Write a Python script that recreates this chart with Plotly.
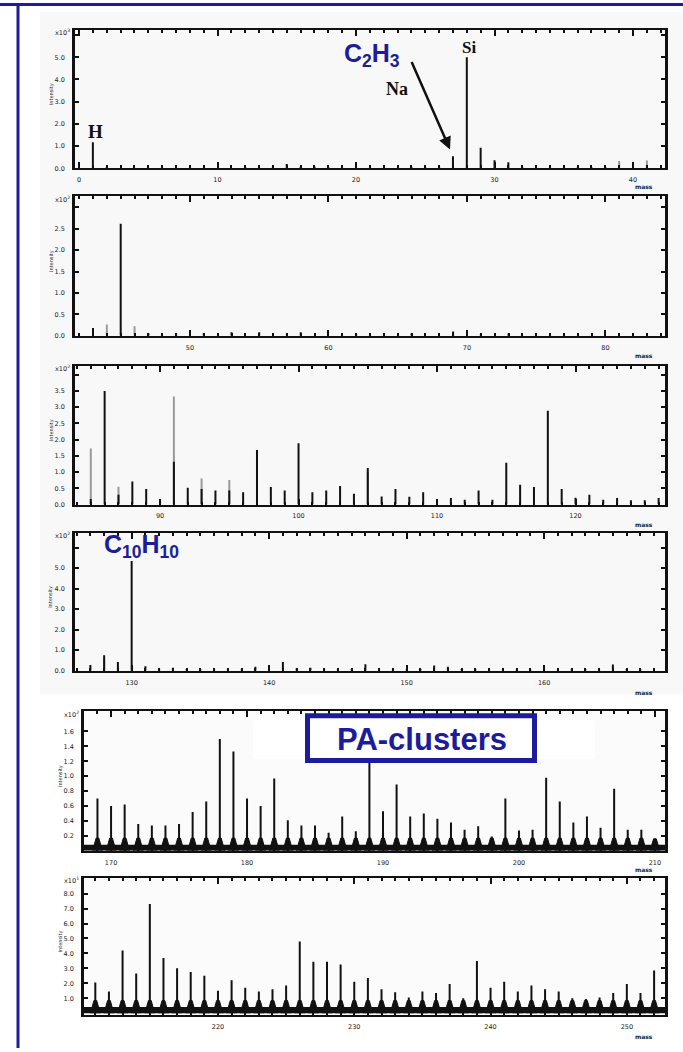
import plotly.graph_objects as go

W, H = 683, 1052
NAVY = "#1c1c9c"
INK = "#111111"
GREY = "#9a9a9a"

# ---------------- spectrum data (m/z, intensity in axis-multiplier units) ----------------
# panel 1: m/z 0-42, x10^3
p1_mass = [1, 2, 12, 13, 14, 15, 16, 17, 18, 24, 25, 26, 27, 28, 29, 30, 31, 32, 36, 37, 38, 40]
p1_int = [1.17, 0.05, 0.06, 0.05, 0.08, 0.20, 0.07, 0.08, 0.05, 0.07, 0.05, 0.10, 0.55, 5.00,
          0.93, 0.37, 0.28, 0.05, 0.04, 0.05, 0.06, 0.12]
p1_grey_mass = [39, 41]
p1_grey_int = [0.33, 0.35]

# panel 2: m/z 42-84, x10^2
p2_mass = [43, 45, 47, 49, 51, 53, 55, 57, 58, 62, 66, 69, 71, 73]
p2_int = [0.18, 2.62, 0.06, 0.05, 0.06, 0.08, 0.08, 0.05, 0.08, 0.04, 0.05, 0.10, 0.04, 0.05]
p2_grey_mass = [44, 46]
p2_grey_int = [0.26, 0.22]

# panel 3: m/z 84-126, x10^2
p3_mass = [85, 86, 87, 88, 89, 90, 91, 92, 93, 94, 95, 96, 97, 98, 99, 100, 101, 102, 103, 104,
           105, 106, 107, 108, 109, 110, 111, 112, 113, 114, 115, 116, 117, 118, 119, 120, 121,
           122, 123, 124, 125, 126]
p3_int = [0.17, 3.50, 0.30, 0.71, 0.48, 0.15, 1.32, 0.52, 0.48, 0.43, 0.43, 0.38, 1.68, 0.54, 0.43,
          1.89, 0.38, 0.43, 0.57, 0.33, 1.13, 0.25, 0.48, 0.24, 0.38, 0.15, 0.20, 0.15, 0.43, 0.15,
          1.29, 0.61, 0.54, 2.89, 0.48, 0.21, 0.30, 0.15, 0.20, 0.13, 0.13, 0.20]
p3_grey_mass = [85, 87, 91, 93, 95, 105]
p3_grey_int = [1.73, 0.55, 3.33, 0.80, 0.76, 1.00]

# panel 4: m/z 126-168, x10^2
p4_mass = [127, 128, 129, 130, 131, 132, 133, 134, 135, 136, 137, 138, 139, 141, 142, 143, 144,
           145, 146, 147, 148, 149, 150, 151, 152, 153, 154, 155, 156, 157, 158, 159, 160, 161,
           162, 163, 164, 165, 166, 167]
p4_int = [0.28, 0.76, 0.43, 5.34, 0.22, 0.10, 0.15, 0.08, 0.07, 0.06, 0.07, 0.06, 0.20, 0.43, 0.12,
          0.15, 0.07, 0.06, 0.08, 0.32, 0.06, 0.07, 0.06, 0.08, 0.25, 0.20, 0.08, 0.07, 0.06, 0.06,
          0.05, 0.06, 0.05, 0.06, 0.06, 0.07, 0.06, 0.30, 0.08, 0.07]
p4_grey_mass = [128]
p4_grey_int = [0.56]

# panel 5: m/z 168-211, x10^2 (PA clusters)
p5_mass = list(range(169, 211))
p5_int = [0.70, 0.60, 0.62, 0.36, 0.34, 0.34, 0.36, 0.52, 0.66, 1.50, 1.33, 0.70, 0.60, 0.97,
          0.41, 0.34, 0.34, 0.24, 0.46, 0.26, 1.40, 0.53, 0.89, 0.46, 0.50, 0.43, 0.38, 0.28,
          0.33, 0.19, 0.70, 0.27, 0.28, 0.98, 0.66, 0.38, 0.46, 0.31, 0.83, 0.28, 0.28, 0.16]

# panel 6: m/z 210-253, x10^1
p6_mass = list(range(211, 253))
p6_int = [2.05, 1.45, 4.20, 2.65, 7.30, 3.70, 3.00, 2.75, 2.50, 1.50, 2.20, 1.70, 1.45, 1.60,
          1.85, 4.80, 3.45, 3.45, 3.25, 2.10, 2.35, 1.60, 1.40, 1.05, 1.45, 1.35, 1.95, 1.00,
          3.50, 1.70, 2.10, 1.45, 1.85, 1.60, 1.45, 1.00, 0.95, 1.05, 1.35, 1.95, 1.35, 2.85]

# axis tick labels
x_ticks = [[0, 10, 20, 30, 40], [50, 60, 70, 80], [90, 100, 110, 120], [130, 140, 150, 160],
           [170, 180, 190, 200, 210], [220, 230, 240, 250]]
y_tickvals = [[0, 1, 2, 3, 4, 5], [0, 0.5, 1, 1.5, 2, 2.5], [0, 0.5, 1, 1.5, 2, 2.5, 3, 3.5],
              [0, 1, 2, 3, 4, 5], [0.2, 0.4, 0.6, 0.8, 1.0, 1.2, 1.4, 1.6],
              [1, 2, 3, 4, 5, 6, 7, 8]]
y_top_tick = [6, 3, 4, 6, None, None]
y_multiplier = ["x10<sup>3</sup>", "x10<sup>2</sup>", "x10<sup>2</sup>", "x10<sup>2</sup>",
                "x10<sup>2</sup>", "x10<sup>1</sup>"]

# ---------------- layout geometry (pixels) ----------------
frames = [(75, 30, 665, 169), (75, 197, 665, 337), (75, 367, 665, 506.5),
          (75, 535, 665, 673.3), (84, 714, 665, 854), (84, 881, 665, 1019)]
xranges = [(-0.29, 42.31), (41.70, 84.30), (83.86, 126.46), (125.88, 168.79),
           (168.01, 210.74), (210.17, 252.8)]
yranges = [(0, 6.23), (0, 3.26), (0, 4.28), (0, 6.71), (0, 1.87), (-0.13, 9.07)]
unit_label_gap = [18, 20, 20, 22, 19, 21]
noise_band = [None, None, None, None, 0.08, 0.42]   # dense baseline of the cluster spectra
foot_height = [None, None, None, None, 0.17, 0.85]  # thick lower part of each cluster peak


def px(x):
    return x / W


def py(y):
    return 1 - y / H


def sticks(masses, heights):
    xs, ys = [], []
    for m, h in zip(masses, heights):
        xs += [m, m, None]
        ys += [0, h, None]
    return xs, ys


def feet(masses, heights, top):
    # narrow trapezoid at the base of each cluster peak
    xs, ys = [], []
    for m, h in zip(masses, heights):
        f = min(top, h)
        xs += [m - 0.36, m - 0.1, m + 0.1, m + 0.36, None]
        ys += [0, f, f, 0, None]
    return xs, ys


def label(text, x, y, size, family="DejaVu Sans", color="#222222", angle=0):
    fig.add_annotation(x=px(x), y=py(y), xref="paper", yref="paper", text=text,
                       showarrow=False, xanchor="center", yanchor="middle", textangle=angle,
                       font=dict(family=family, size=size, color=color))


fig = go.Figure()

black_sets = [(p1_mass, p1_int), (p2_mass, p2_int), (p3_mass, p3_int), (p4_mass, p4_int),
              (p5_mass, p5_int), (p6_mass, p6_int)]
grey_sets = [(p1_grey_mass, p1_grey_int), (p2_grey_mass, p2_grey_int),
             (p3_grey_mass, p3_grey_int), (p4_grey_mass, p4_grey_int), None, None]

font_tick = dict(family="DejaVu Sans", size=6.5, color="#222222")

# light backdrop of the upper four spectra
fig.add_shape(type="rect", xref="paper", yref="paper", x0=px(40), x1=px(683), y0=py(697),
              y1=py(12), fillcolor="#f8f8f8", line=dict(width=0), layer="below")

for i in range(6):
    n = "" if i == 0 else str(i + 1)
    xa, ya = "x" + n, "y" + n
    l, t, r, b = frames[i]

    if noise_band[i] is not None:
        fig.add_trace(go.Scatter(x=list(xranges[i]), y=[noise_band[i], noise_band[i]],
                                 mode="lines", line=dict(width=0, color=INK), fill="tozeroy",
                                 fillcolor=INK, xaxis=xa, yaxis=ya, hoverinfo="skip"))
        fx, fy = feet(*black_sets[i], foot_height[i])
        fig.add_trace(go.Scatter(x=fx, y=fy, mode="lines", line=dict(width=1, color=INK),
                                 fill="toself", fillcolor=INK, xaxis=xa, yaxis=ya,
                                 hoverinfo="skip"))

    if grey_sets[i] is not None:
        gx, gy = sticks(*grey_sets[i])
        fig.add_trace(go.Scatter(x=gx, y=gy, mode="lines", line=dict(width=2, color=GREY),
                                 xaxis=xa, yaxis=ya, hoverinfo="skip"))
    sx, sy = sticks(*black_sets[i])
    fig.add_trace(go.Scatter(x=sx, y=sy, mode="lines", line=dict(width=2, color=INK),
                             xaxis=xa, yaxis=ya, hoverinfo="skip"))

    fig.layout["xaxis" + n] = dict(
        domain=[px(l), px(r)], anchor=ya, range=list(xranges[i]),
        tickvals=x_ticks[i], ticktext=[str(v) for v in x_ticks[i]],
        ticks="inside", ticklen=6, tickwidth=1.5, tickcolor=INK,
        minor=dict(dtick=1, tick0=0, ticks="inside", ticklen=3, tickwidth=1.5, tickcolor=INK),
        showline=True, linewidth=2, linecolor=INK, mirror="ticks",
        showgrid=False, zeroline=False, tickfont=font_tick, ticklabelstandoff=4,
    )
    yv = y_tickvals[i]
    yaxis = dict(
        domain=[py(b), py(t)], anchor=xa, range=list(yranges[i]),
        tickvals=yv, ticktext=[f"{v:.1f}" for v in yv],
        ticks="inside", ticklen=4, tickwidth=1.5, tickcolor=INK,
        showline=True, linewidth=2.5, linecolor=INK, mirror="ticks",
        showgrid=False, zeroline=False, tickfont=font_tick, ticklabelstandoff=6,
    )
    if y_top_tick[i] is not None:
        yaxis["minor"] = dict(tickvals=[y_top_tick[i]], ticks="inside", ticklen=4,
                              tickwidth=1.5, tickcolor=INK)
    fig.layout["yaxis" + n] = yaxis

    # multiplier, axis title and unit label
    label(y_multiplier[i], l - 13, t + 3, 6.5)
    label("Intensity", l - 24, (t + b) / 2 - 5, 5, angle=-90)
    label("<b>mass</b>", 644, b + unit_label_gap[i], 6)

# element labels on panel 1
label("<b>H</b>", 95, 132.5, 19, family="Liberation Serif", color=INK)
label("<b>Na</b>", 397, 89, 18, family="Liberation Serif", color=INK)
label("<b>Si</b>", 469, 47.5, 17, family="Liberation Serif", color=INK)

label("<b>C<sub>2</sub>H<sub>3</sub></b>", 372, 55, 25, family="Liberation Sans", color=NAVY)
fig.add_annotation(x=px(450), y=py(150), ax=-39, ay=-89, xref="paper", yref="paper",
                   text="", showarrow=True, arrowhead=2,
                   arrowsize=1, arrowwidth=2.5, arrowcolor=INK)
label("<b>C<sub>10</sub>H<sub>10</sub></b>", 141, 548, 25, family="Liberation Sans", color=NAVY)

# clean strip and label box over the cluster spectrum
fig.add_shape(type="rect", xref="paper", yref="paper", x0=px(253), x1=px(595), y0=py(762),
              y1=py(723), fillcolor="white", line=dict(width=0))
fig.add_shape(type="rect", xref="paper", yref="paper", x0=px(307.5), x1=px(534.5), y0=py(763.5),
              y1=py(718.5), fillcolor="white", line=dict(width=5, color=NAVY))
label("<b>PA-clusters</b>", 422, 742, 31, family="Liberation Sans", color=NAVY)

# blue frame: top rule and left rule
fig.add_shape(type="line", xref="paper", yref="paper", x0=px(0), x1=px(683), y0=py(4.5),
              y1=py(4.5), line=dict(width=3, color=NAVY))
fig.add_shape(type="line", xref="paper", yref="paper", x0=px(18), x1=px(18), y0=py(4.5),
              y1=py(1052), line=dict(width=3, color=NAVY))

fig.update_layout(width=W, height=H, margin=dict(l=0, r=0, t=0, b=0), showlegend=False,
                  paper_bgcolor="white", plot_bgcolor="#fbfbfb")

fig.write_html("out.html")
